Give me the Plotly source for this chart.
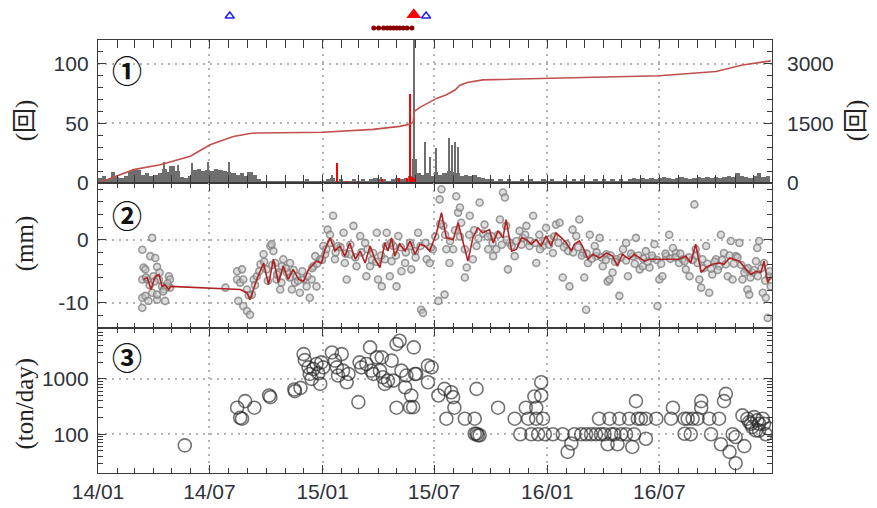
import pandas as pd
import plotly.graph_objects as go

T0 = pd.Timestamp("2014-01-01")
DAY_MS = 86400000


def to_dates(days):
    return [T0 + pd.Timedelta(days=float(d)) for d in days]


# ---------------- Panel 1 : earthquakes (count / day), tremor, cumulative ----------------
quake_week_start = "2014-01-04"  # weekly bins (7 days)
quake_week = [
    4, 6, 3, 9, 5, 4, 6, 10, 12, 11,
    7, 8, 6, 7, 8, 12, 9, 14, 10, 5,
    4, 6, 11, 12, 10, 11, 10, 12, 11, 10,
    9, 8, 7, 8, 6, 9, 7, 3, 2, 2,
    1, 2, 1, 2, 1, 2, 1, 2, 3, 1,
    2, 1, 2, 3, 4, 2, 3, 2, 2, 3,
    2, 3, 2, 3, 4, 3, 3, 2, 3, 4,
    3, 4, 6, 20, 8, 7, 8, 6, 9, 7,
    8, 10, 9, 8, 6, 7, 6, 7, 5, 4,
    3, 3, 2, 3, 2, 3, 2, 2, 3, 2,
    3, 2, 2, 3, 2, 3, 2, 2, 3, 2,
    3, 2, 3, 2, 2, 3, 2, 3, 2, 3,
    2, 3, 2, 3, 4, 3, 4, 3, 4, 3,
    4, 5, 4, 3, 4, 5, 4, 3, 4, 5,
    4, 5, 4, 5, 4, 5, 6, 5, 8, 6,
    5, 4, 6, 8, 5, 6,
]
quake_spike_day = [23, 108, 118, 130, 153, 179, 213, 244, 380, 460,
                   513, 531, 539, 550, 570, 576, 581, 585, 1037, 1074]
quake_spike_n = [9, 18, 14, 15, 17, 18, 18, 9, 7, 5,
                 200, 34, 22, 29, 38, 32, 34, 30, 8, 8]

tremor_day = [388, 404, 422, 461, 490, 502, 507, 510, 513]
tremor_n = [17, 1, 1, 3, 4, 4, 75, 5, 4]

cum_day = [0, 58, 101, 150, 182, 204, 220, 247, 259, 366, 447, 490, 508, 512,
           514, 523, 550, 566, 580, 588, 600, 625, 730, 912, 1004, 1047, 1093]
cum_n = [0, 336, 460, 672, 960, 1092, 1170, 1245, 1260, 1278, 1350, 1425, 1485, 1530,
         1800, 1905, 2130, 2220, 2340, 2460, 2530, 2595, 2640, 2700, 2805, 2970, 3075]

# eruptions / events shown above panel 1
small_eruption_day = [214, 533]
big_eruption_day = [513]
event_day = [448, 456, 464, 470, 475, 480, 485, 490, 496, 502, 510]

# ---------------- Panel 2 : GNSS baseline (mm) ----------------
gnss_day = [
    72, 88, 85, 93, 74, 77, 96, 72, 80, 90,
    99, 104, 115, 117, 72, 77, 82, 88, 96, 109,
    112, 107, 72, 96, 117, 78, 84, 92, 100, 106,
    113,
    207, 226, 234, 226, 231, 236, 242, 228, 236, 242,
    247, 250, 253, 258, 264, 269, 274, 280, 282, 285,
    288, 290, 293, 296, 299, 301, 307, 312, 315, 320,
    323, 328, 334, 339, 344, 347, 350, 353, 355, 361,
    366, 369, 373, 377, 382, 385, 390, 399, 401, 404,
    409, 415, 420, 426, 434, 436, 442, 447, 453, 455,
    461, 466, 469, 474, 477, 480, 485, 488, 493, 499,
    507, 509, 515, 520, 525, 528, 534, 539, 544, 553,
    555, 558, 561, 563, 566, 571, 577, 582, 585, 588,
    590, 596, 599, 604, 609, 615, 620, 628, 634,
    639, 642, 647, 653, 658, 661, 663, 666, 669, 677,
    685, 690, 696, 701, 707, 712, 717, 723, 728, 734,
    739, 744, 750, 755, 761, 766, 771, 777, 782, 788,
    790, 793, 796, 799, 807, 809, 815, 820, 826, 828,
    831, 836, 842, 847, 853, 858, 861, 869, 874, 880,
    885, 890, 896, 901, 904, 909, 912, 917, 923, 928,
    934, 939, 944, 950, 955, 961, 969, 971, 974, 977,
    980, 982, 988, 993, 998, 1004, 1009, 1012, 1017, 1023,
    1028, 1031, 1036, 1042, 1047, 1053, 1055, 1058, 1063, 1069,
    1071, 1074, 1080, 1082, 1085, 1088, 1090, 1093,
    245, 255, 262, 270, 276, 283, 291, 298, 305, 311,
    318, 325, 332, 340, 348, 356, 364, 371, 378, 386,
    394, 402, 410, 418, 428, 438, 445, 452, 460, 468,
    476, 484, 492, 500, 508, 516, 524, 532, 541, 548,
    556, 564, 572, 580, 588, 596, 603, 611, 618, 626,
    633, 641, 650, 656, 664, 672, 680, 688, 694, 702,
    710, 718, 726, 733, 741, 748, 757, 764, 772, 780,
    786, 794, 802, 810, 818, 825, 833, 840, 850, 858,
    866, 872, 878, 886, 893, 900, 908, 915, 922, 930,
    938, 946, 953, 960, 966, 972, 984, 990, 996, 1002,
    1007, 1014, 1020, 1026, 1033, 1039, 1045, 1050, 1056, 1060,
    1066, 1072, 1078, 1084, 1091,
]
gnss_mm = [
    -1.6, 0.3, -2.6, -2.9, -4.4, -4.7, -4.3, -6.3, -6.3, -5.8,
    -6.3, -7.4, -5.8, -6.3, -9.2, -8.9, -9.7, -8.4, -9.5, -9.7,
    -7.4, -7.9, -10.8, -8.7, -7.6, -6.0, -7.2, -6.6, -5.2, -8.2,
    -6.9,
    -7.6, -5.0, -4.7, -6.3, -6.8, -6.3, -7.9, -9.7, -10.5, -11.3,
    -11.9, -8.7, -6.3, -5.8, -3.9, -2.3, -4.7, -1.0, -0.7, -1.8,
    -3.7, -6.3, -5.2, -7.9, -4.2, -3.1, -5.2, -3.7, -7.9, -6.8,
    -5.8, -8.4, -6.3, -7.4, -9.2, -6.3, -4.2, -2.6, -7.4, -3.1,
    -1.0, -2.3, 1.6, 0.8, 3.8, -3.1, -1.0, 1.1, -3.7, -6.3,
    -2.3, 2.2, -4.2, 0.6, -0.5, -5.8, -4.2, -2.1, 1.1, -6.3,
    -7.4, -3.1, 1.1, -5.8, -3.4, -1.0, -7.4, 0.6, -5.0, -3.7,
    -0.5, -4.7, -1.8, 1.1, -11.1, -11.6, -3.1, -3.7, -1.5, -9.7,
    6.4, 8.0, 2.2, -8.7, -1.5, -3.7, -1.5, 6.9, 4.3, 5.1,
    2.7, -6.0, -4.4, 3.8, -3.1, -1.0, 5.9, 2.4, -1.5,
    0.6, -2.6, -1.5, 3.2, 7.5, 6.7, 2.2, -4.7, -0.5, -2.6,
    1.4, 0.3, 2.2, -1.0, 3.8, -3.7, 0.8, -1.0, 1.9, 0.1,
    -2.1, 2.4, 2.7, -6.0, -0.7, -7.4, 1.6, 0.6, 3.2, -2.1,
    -6.0, -11.1, -3.7, 0.8, -1.0, -2.6, 0.3, -4.2, -2.3, -6.6,
    -6.3, -5.2, -3.1, -8.9, -1.5, -0.5, -5.8, -2.6, 0.3, -4.7,
    -4.2, -1.8, -4.4, -2.9, -0.7, -10.5, -6.3, -5.8, -2.6, 0.8,
    -1.3, -2.1, -3.7, -3.1, -4.7, -5.8, 5.6, -1.5, -3.7, -6.3,
    -7.6, -3.1, -1.0, -8.4, -5.5, -3.1, -4.2, 0.8, -2.1, -5.8,
    -0.2, -6.3, -2.6, -0.5, -6.3, -4.7, -7.9, -8.7, -5.2, -3.4,
    -1.3, -0.2, -8.4, -3.7, -9.2, -12.4, -5.8, -7.4,
    -8.8, -7.2, -5.0, -3.5, -6.5, -4.0, -5.5, -6.8, -4.5, -6.0,
    -4.8, -6.5, -5.0, -5.8, -4.5, -3.8, -3.2, -1.5, -0.5, -2.0,
    -1.2, -2.2, -0.8, -2.8, -2.0, -1.5, -3.2, -3.5, -2.5, -1.0,
    -0.5, -2.5, -1.2, -2.0, -1.0, -2.8, -1.0, -0.5, -1.2, 0.5,
    2.5, 0.8, -0.2, 1.5, 0.5, -1.5, 0.8, 1.5, 0.2, 1.0,
    0.5, -0.5, 0.8, -0.8, 0.0, -1.0, -0.2, -0.8, 0.8, -0.2,
    -0.5, -1.5, -0.2, -0.8, 0.5, -0.5, -1.2, -1.8, -2.0, -1.2,
    -2.5, -2.2, -3.0, -2.0, -2.8, -3.2, -2.5, -3.5, -2.8, -3.3,
    -2.2, -3.8, -2.5, -3.0, -3.5, -2.5, -3.2, -3.8, -2.2, -3.0,
    -2.8, -2.2, -3.4, -2.8, -3.2, -2.5, -4.5, -3.8, -4.6, -3.5,
    -4.8, -3.2, -3.9, -2.5, -3.8, -2.8, -4.0, -5.2, -4.5, -6.0,
    -4.8, -5.8, -4.5, -6.5, -5.0,
]

gnss_avg_day = [
    74, 80, 86, 93, 99, 104, 109, 115, 118, 231,
    242, 247, 258, 269, 277, 285, 293, 301, 309, 317,
    326, 334, 342, 347, 355, 363, 369, 377, 385, 393,
    401, 409, 418, 426, 434, 442, 450, 458, 466, 471,
    477, 482, 490, 499, 507, 515, 523, 531, 539, 550,
    558, 566, 577, 585, 593, 601, 609, 617, 625, 636,
    642, 650, 658, 663, 672, 680, 688, 696, 704, 712,
    720, 728, 736, 744, 753, 761, 769, 774, 782, 787,
    796, 804, 815, 826, 836, 844, 852, 863, 871, 880,
    888, 896, 944, 955, 963, 971, 980, 988, 998, 1009,
    1017, 1026, 1034, 1042, 1053, 1061, 1069, 1077, 1082, 1088,
    1093,
]
gnss_avg_mm = [
    -6.3, -6.0, -7.9, -5.8, -5.5, -7.4, -7.1, -7.9, -7.4, -7.9,
    -8.4, -9.5, -6.3, -3.7, -7.1, -3.1, -6.8, -4.2, -6.3, -4.7,
    -6.3, -6.6, -4.7, -4.2, -3.4, -3.7, -1.5, 0.3, -1.8, -1.0,
    -2.6, -0.5, -3.1, -1.8, -3.7, -1.0, -3.1, -4.4, -0.5, -1.8,
    0.3, -2.6, -0.7, -1.8, -0.2, -2.3, -0.7, -1.0, -1.8, 1.1,
    4.3, 0.3, 0.0, 2.7, -0.5, -3.4, 0.3, 1.9, 1.1, 1.6,
    -0.5, 1.4, 0.3, 3.2, -1.8, -1.5, 0.3, 0.0, -0.7, 0.0,
    -1.0, 0.6, -1.0, 1.1, 0.3, -0.5, -1.8, -0.7, -0.2, -1.0,
    -3.1, -2.3, -2.9, -2.1, -2.6, -4.2, -2.3, -3.1, -2.3, -2.9,
    -3.4, -3.1, -3.1, -2.6, -3.7, -0.7, -5.2, -4.4, -3.9, -3.7,
    -3.9, -2.9, -3.1, -3.4, -4.7, -5.5, -5.0, -5.2, -3.4, -6.8,
    -5.8,
]

# ---------------- Panel 3 : SO2 emission (ton/day) ----------------
so2_day = [
    141, 226, 239, 254, 231, 234, 278, 280, 319, 320,
    329, 334, 336, 342, 344, 347, 350, 355, 358, 361,
    363, 366, 380, 385, 388, 390, 396, 398, 404, 407,
    423, 425, 428, 436, 442, 444, 447, 453, 458, 461,
    463, 466, 471, 477, 480, 485, 490, 485, 493, 499,
    501, 507, 509, 512, 513, 515, 517, 536, 536, 542,
    553, 563, 566, 574, 577, 579, 596, 612, 615, 615,
    617, 612, 620, 650, 677, 686, 695, 699, 704, 709,
    712, 712, 715, 720, 720, 723, 726, 739, 755, 763,
    769, 774, 785, 793, 801, 809, 814, 817, 823, 828,
    831, 834, 839, 844, 847, 850, 858, 863, 868, 871,
    874, 877, 882, 890, 890, 907, 931, 934, 953, 953,
    958, 963, 966, 974, 980, 980, 993, 996, 1009, 1012,
    1017, 1020, 1026, 1031, 1036, 1036, 1050, 1047, 1055, 1058,
    1063, 1066, 1071, 1074, 1080, 1082, 1085, 1090, 1061, 1069,
    1074,
]
so2_ton = [
    63, 302, 397, 302, 199, 191, 502, 468, 643, 600,
    689, 2810, 2190, 1620, 1230, 1000, 1510, 1860, 1265, 813,
    1990, 1620, 3010, 2140, 1620, 1150, 2810, 1410, 871, 1230,
    381, 1990, 1620, 1860, 3710, 1410, 1230, 2450, 1410, 2450,
    1070, 813, 933, 2140, 933, 4260, 4900, 302, 1410, 708,
    1150, 309, 502, 309, 3710, 1230, 1230, 871, 1740, 1620,
    502, 661, 191, 575, 468, 302, 191, 191, 661, 102,
    96, 102, 96, 302, 191, 100, 302, 191, 100, 481,
    302, 191, 100, 871, 502, 191, 100, 100, 100, 48,
    68, 100, 100, 100, 100, 100, 191, 100, 100, 66,
    191, 100, 100, 66, 191, 100, 100, 191, 59, 100,
    397, 191, 191, 83, 191, 191, 191, 302, 102, 191,
    191, 100, 191, 191, 397, 302, 191, 100, 191, 66,
    397, 537, 48, 100, 30, 89, 61, 219, 191, 166,
    135, 204, 178, 117, 191, 155, 100, 126, 155, 117,
    155,
]

assert len(gnss_day) == len(gnss_mm)
assert len(gnss_avg_day) == len(gnss_avg_mm)
assert len(so2_day) == len(so2_ton)

x_range = ["2014-01-01", "2016-12-31"]

# ---------------- figure ----------------
fig = go.Figure()

week_dates = pd.date_range(quake_week_start, periods=len(quake_week), freq="7D")
fig.add_trace(go.Bar(x=week_dates, y=quake_week, width=7 * DAY_MS,
                     marker=dict(color="#6e6e6e", line=dict(width=0)),
                     xaxis="x", yaxis="y"))
fig.add_trace(go.Bar(x=to_dates(quake_spike_day), y=quake_spike_n, width=2.2 * DAY_MS,
                     marker=dict(color="#6e6e6e", line=dict(width=0)),
                     xaxis="x", yaxis="y"))
fig.add_trace(go.Bar(x=to_dates(tremor_day), y=tremor_n, width=2.2 * DAY_MS,
                     marker=dict(color="#ff0000", line=dict(width=0)),
                     xaxis="x", yaxis="y"))
fig.add_trace(go.Scatter(x=to_dates(cum_day), y=cum_n, mode="lines",
                         line=dict(color="#c0504d", width=1.6),
                         xaxis="x", yaxis="y2"))

# events strip
fig.add_trace(go.Scatter(x=to_dates(event_day), y=[0.375] * len(event_day), mode="lines+markers",
                         line=dict(color="#8b0000", width=2),
                         marker=dict(color="#8b0000", size=5),
                         xaxis="x4", yaxis="y5"))
fig.add_trace(go.Scatter(x=to_dates(small_eruption_day), y=[0.75] * len(small_eruption_day),
                         mode="markers",
                         marker=dict(symbol="triangle-up-open", color="#2222ee", size=8,
                                     line=dict(width=1.5)),
                         xaxis="x4", yaxis="y5"))
fig.add_trace(go.Scatter(x=to_dates(big_eruption_day), y=[0.79] * len(big_eruption_day),
                         mode="markers",
                         marker=dict(symbol="triangle-up", color="#ff0000", size=13),
                         xaxis="x4", yaxis="y5"))

# panel 2
fig.add_trace(go.Scatter(x=to_dates(gnss_day), y=gnss_mm, mode="markers",
                         marker=dict(symbol="circle", size=7, color="rgba(195,195,195,0.55)",
                                     line=dict(color="rgba(130,130,130,0.8)", width=1.6)),
                         xaxis="x2", yaxis="y3"))
fig.add_trace(go.Scatter(x=to_dates(gnss_avg_day), y=gnss_avg_mm, mode="lines",
                         line=dict(color="#b22222", width=1.6),
                         xaxis="x2", yaxis="y3"))

# panel 3
fig.add_trace(go.Scatter(x=to_dates(so2_day), y=so2_ton, mode="markers",
                         marker=dict(symbol="circle-open", size=13, color="rgba(40,40,40,0.65)",
                                     line=dict(width=1.6)),
                         xaxis="x3", yaxis="y4"))

AX = "#3a3a3a"
GRID = "#b4b4b4"
GRID_DASH = "2px,5px"
tickfont = dict(family="Liberation Sans, Arial, sans-serif", size=21, color="#2e323a")

xcommon = dict(type="date", range=x_range, dtick="M6", tick0="2014-01-01",
               tickformat="%y/%m", ticks="inside", ticklen=8, tickwidth=1.3, tickcolor=AX,
               showline=True, linecolor=AX, linewidth=1.4, mirror="allticks",
               showgrid=True, gridcolor=GRID, griddash=GRID_DASH, gridwidth=1.5,
               minor=dict(ticks="inside", ticklen=5, dtick="M1", tickcolor=AX,
                          tickwidth=1.1, showgrid=False),
               zeroline=False, tickfont=tickfont, fixedrange=True)

ycommon = dict(ticks="inside", ticklen=8, tickwidth=1.3, tickcolor=AX,
               showline=True, linecolor=AX, linewidth=1.4, mirror="allticks",
               showgrid=True, gridcolor=GRID, griddash=GRID_DASH, gridwidth=1.5,
               zeroline=False, tickfont=tickfont, ticklabelstandoff=4)

# page is offset by the default 8px body margin; plot area spans page x 98..772, y 40..473
D3 = (0.0, 0.3118)
D2 = (0.3118, 0.6237)
D1 = (0.6237, 0.9312)
DS = (0.9312, 1.0)

fig.update_layout(
    width=877, height=508,
    margin=dict(l=90, r=113, t=0, b=43),
    paper_bgcolor="white", plot_bgcolor="white",
    showlegend=False, barmode="overlay", bargap=0,
    hovermode=False,
    xaxis=dict(xcommon, domain=[0, 1], anchor="y", showticklabels=False, matches="x3"),
    xaxis2=dict(xcommon, domain=[0, 1], anchor="y3", showticklabels=False, matches="x3"),
    xaxis3=dict(xcommon, domain=[0, 1], anchor="y4", showticklabels=True),
    xaxis4=dict(type="date", range=x_range, domain=[0, 1], anchor="y5", visible=False,
                matches="x3"),
    yaxis=dict(ycommon, domain=list(D1), anchor="x", range=[0, 120],
               tickvals=[0, 50, 100],
               minor=dict(ticks="inside", ticklen=5, dtick=10, tickcolor=AX,
                          tickwidth=1.1, showgrid=False)),
    yaxis2=dict(overlaying="y", side="right", anchor="x", range=[0, 3600],
                tickvals=[0, 1500, 3000], ticks="", showgrid=False, showline=False,
                zeroline=False, tickfont=tickfont, ticklabelstandoff=14),
    yaxis3=dict(ycommon, domain=list(D2), anchor="x2", range=[-14, 9],
                tickvals=[-10, 0], ticktext=["-10", "0"],
                minor=dict(ticks="inside", ticklen=5, dtick=2, tick0=0, tickcolor=AX,
                           tickwidth=1.1, showgrid=False)),
    yaxis4=dict(ycommon, domain=list(D3), anchor="x3", type="log", range=[1.3, 3.92],
                tickvals=[100, 1000], ticktext=["100", "1000"],
                minor=dict(ticks="inside", ticklen=5, dtick="D1", tickcolor=AX,
                           tickwidth=1.1, showgrid=False)),
    yaxis5=dict(domain=list(DS), anchor="x4", range=[0, 1], visible=False),
)

title_font = dict(family="Liberation Serif, 'Noto Sans CJK JP', serif", size=25, color="#222")
num_font = dict(family="'Noto Sans CJK JP', 'DejaVu Sans', sans-serif", size=30, color="#111")

annotations = [
    dict(text="(回)", x=-0.108, y=0.759, textangle=-90),
    dict(text="(回)", x=1.125, y=0.759, textangle=-90),
    dict(text="(mm)", x=-0.108, y=0.4946, textangle=-90),
    dict(text="(ton/day)", x=-0.108, y=0.150, textangle=-90),
]
for a in annotations:
    fig.add_annotation(xref="paper", yref="paper", showarrow=False,
                       xanchor="center", yanchor="middle", font=title_font, **a)

for label, yy in [("①", 0.869), ("②", 0.557), ("③", 0.2516)]:
    fig.add_annotation(text="<b>" + label + "</b>", xref="paper", yref="paper", x=0.043, y=yy,
                       showarrow=False, xanchor="center", yanchor="middle", font=num_font)

fig.write_html("out.html")
